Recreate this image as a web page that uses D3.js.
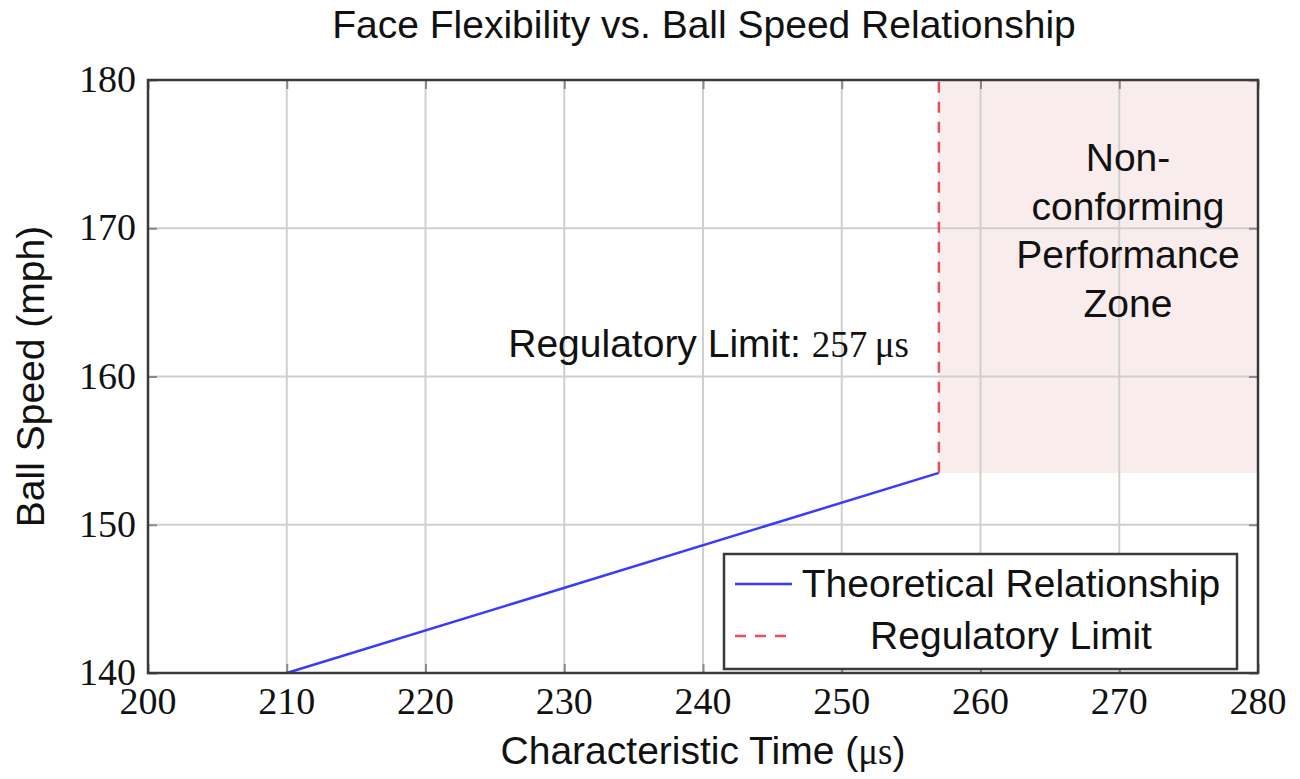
<!DOCTYPE html>
<html>
<head>
<meta charset="utf-8">
<script src="https://cdn.jsdelivr.net/npm/d3@7"></script>
<style>
  html, body { margin: 0; padding: 0; background: #fff; }
  svg { display: block; }
</style>
</head>
<body>
<svg id="chart" width="1300" height="779"></svg>
<script>
// ---- data ----
const xTicks = [200, 210, 220, 230, 240, 250, 260, 270, 280];
const yTicks = [140, 150, 160, 170, 180];
const xDomain = [200, 280];
const yDomain = [140, 180];
const theoreticalX = [210, 257];
const theoreticalY = [140, 153.5];
const regulatoryLimitX = 257;
const regulatoryLimitY = [153.5, 180];
const zoneX = [257, 280];
const zoneY = [153.5, 180];
const zoneLabelLines = ["Non-", "conforming", "Performance", "Zone"];
const titleText = "Face Flexibility vs. Ball Speed Relationship";
const legendLabels = ["Theoretical Relationship", "Regulatory Limit"];

// ---- layout ----
const svg = d3.select("#chart");
const L = 148, R = 1258, T = 80, B = 673;
const x = d3.scaleLinear().domain(xDomain).range([L, R]);
const y = d3.scaleLinear().domain(yDomain).range([B, T]);
const sans = "'Liberation Sans', Arial, sans-serif";
const serif = "'Liberation Serif', 'DejaVu Serif', serif";
const blue = "#3a3aff", red = "#ea5058";
const fs = "39px";

// shaded zone
svg.append("rect")
  .attr("x", x(zoneX[0])).attr("y", y(zoneY[1]))
  .attr("width", x(zoneX[1]) - x(zoneX[0]))
  .attr("height", y(zoneY[0]) - y(zoneY[1]))
  .attr("fill", "#f9ecec");

// grid
const grid = svg.append("g");
grid.selectAll(".gx").data(xTicks.slice(1, -1)).enter().append("line")
  .attr("x1", d => x(d)).attr("x2", d => x(d)).attr("y1", T).attr("y2", B)
  .attr("stroke", "#cfcfcf").attr("stroke-width", 2);
grid.selectAll(".gy").data(yTicks.slice(1, -1)).enter().append("line")
  .attr("y1", d => y(d)).attr("y2", d => y(d)).attr("x1", L).attr("x2", R)
  .attr("stroke", "#cfcfcf").attr("stroke-width", 2);

// inner tick marks via d3 axes
const tickLen = 9;
function styleAxis(g) {
  g.select(".domain").remove();
  g.selectAll(".tick line").attr("stroke", "#8a8a8a").attr("stroke-width", 2);
  g.selectAll(".tick text").remove();
}
svg.append("g").attr("transform", `translate(0,${B})`)
  .call(d3.axisTop(x).tickValues(xTicks).tickSize(tickLen)).call(styleAxis);
svg.append("g").attr("transform", `translate(0,${T})`)
  .call(d3.axisBottom(x).tickValues(xTicks).tickSize(tickLen)).call(styleAxis);
svg.append("g").attr("transform", `translate(${L},0)`)
  .call(d3.axisRight(y).tickValues(yTicks).tickSize(tickLen)).call(styleAxis);
svg.append("g").attr("transform", `translate(${R},0)`)
  .call(d3.axisLeft(y).tickValues(yTicks).tickSize(tickLen)).call(styleAxis);

// tick labels
svg.append("g").selectAll("text").data(xTicks).enter().append("text")
  .attr("x", d => x(d)).attr("y", B + 41)
  .attr("text-anchor", "middle")
  .style("font-family", serif).style("font-size", "38px").attr("fill", "#111")
  .text(d => d);
svg.append("g").selectAll("text").data(yTicks).enter().append("text")
  .attr("x", L - 12).attr("y", d => y(d) + 12)
  .attr("text-anchor", "end")
  .style("font-family", serif).style("font-size", "38px").attr("fill", "#111")
  .text(d => d);

// theoretical line
const lineData = theoreticalX.map((v, i) => [v, theoreticalY[i]]);
svg.append("path")
  .datum(lineData)
  .attr("d", d3.line().x(d => x(d[0])).y(d => y(d[1])))
  .attr("fill", "none").attr("stroke", blue).attr("stroke-width", 2.5);

// regulatory limit dashed line
svg.append("line")
  .attr("x1", x(regulatoryLimitX)).attr("x2", x(regulatoryLimitX))
  .attr("y1", y(regulatoryLimitY[0])).attr("y2", y(regulatoryLimitY[1]))
  .attr("stroke", red).attr("stroke-width", 2.5)
  .attr("stroke-dasharray", "11,9");

// frame
svg.append("rect")
  .attr("x", L).attr("y", T).attr("width", R - L).attr("height", B - T)
  .attr("fill", "none").attr("stroke", "#3a3a3a").attr("stroke-width", 2.5);

// annotation: regulatory limit
const ann = svg.append("text")
  .attr("x", x(regulatoryLimitX) - 30).attr("y", 357)
  .attr("text-anchor", "end").attr("fill", "#111");
ann.append("tspan").style("font-family", sans).style("font-size", fs).text("Regulatory Limit: ");
ann.append("tspan").style("font-family", serif).style("font-size", "37px").text(regulatoryLimitX + "\u2009\u03bcs");

// zone label
svg.append("g").selectAll("text").data(zoneLabelLines).enter().append("text")
  .attr("x", 1128).attr("y", (d, i) => 171 + i * 48.5)
  .attr("text-anchor", "middle")
  .style("font-family", sans).style("font-size", fs).attr("fill", "#111")
  .text(d => d);

// title
svg.append("text")
  .attr("x", (L + R) / 2 + 1).attr("y", 38)
  .attr("text-anchor", "middle")
  .style("font-family", sans).style("font-size", fs).attr("fill", "#111")
  .text(titleText);

// x axis label
const xl = svg.append("text")
  .attr("x", (L + R) / 2).attr("y", 764)
  .attr("text-anchor", "middle").attr("fill", "#111")
  .style("font-family", sans).style("font-size", fs);
xl.append("tspan").text("Characteristic Time (");
xl.append("tspan").style("font-family", serif).style("font-size", "37px").text("\u03bcs");
xl.append("tspan").text(")");

// y axis label
svg.append("text")
  .attr("transform", `translate(44,${(T + B) / 2}) rotate(-90)`)
  .attr("text-anchor", "middle")
  .style("font-family", sans).style("font-size", fs).attr("fill", "#111")
  .text("Ball Speed (mph)");

// legend
const lg = svg.append("g");
lg.append("rect")
  .attr("x", 724).attr("y", 554).attr("width", 513).attr("height", 115)
  .attr("fill", "#fff").attr("stroke", "#3a3a3a").attr("stroke-width", 2.5);
const legendStyles = [{ c: blue, dash: null }, { c: red, dash: "11,9" }];
legendLabels.forEach((lab, i) => {
  const cy = 584 + i * 52;
  lg.append("line")
    .attr("x1", 735).attr("x2", 792).attr("y1", cy).attr("y2", cy)
    .attr("stroke", legendStyles[i].c).attr("stroke-width", 2.5)
    .attr("stroke-dasharray", legendStyles[i].dash);
  lg.append("text")
    .attr("x", 1011).attr("y", cy + 13)
    .attr("text-anchor", "middle")
    .style("font-family", sans).style("font-size", fs).attr("fill", "#111")
    .text(lab);
});
</script>
</body>
</html>
